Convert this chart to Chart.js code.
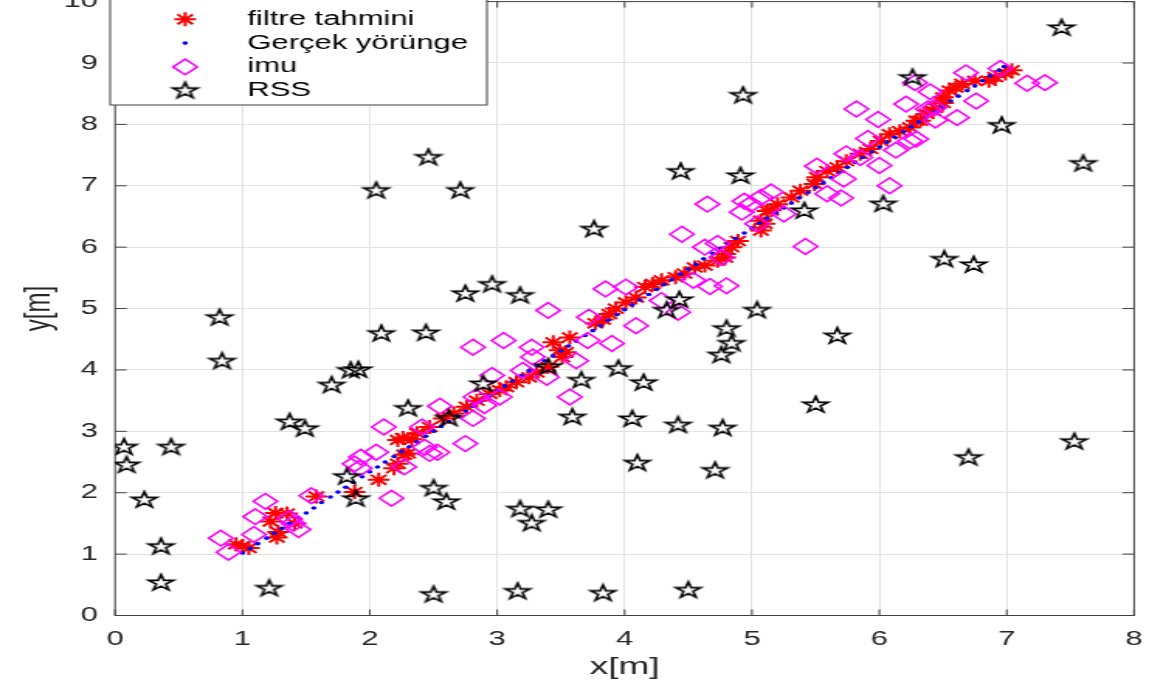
<!DOCTYPE html>
<html>
<head>
<meta charset="utf-8">
<script src="https://cdn.jsdelivr.net/npm/chart.js@4.4.1/dist/chart.umd.min.js"></script>
<style>
  html, body { margin: 0; padding: 0; background: #fff; overflow: hidden; }
  #trajectory-chart { display: block; }
</style>
</head>
<body>
<!-- the source figure is stretched sideways and cut at the top, so the canvas is drawn narrow,
     widened by its inline style and pulled up a little -->
<canvas id="trajectory-chart" width="741" height="693" style="width:1149px;height:693px;margin-top:-8px"></canvas>
<script>
const seriesLabels = ['filtre tahmini', 'Gerçek yörünge', 'imu', 'RSS'];
const xTicks = [0, 1, 2, 3, 4, 5, 6, 7, 8];
const yTicks = [0, 1, 2, 3, 4, 5, 6, 7, 8, 9, 10];
const xTitle = 'x[m]';
const yTitle = 'y[m]';

// [x, y] pairs
const filtreTahmini = [
  [0.95, 1.16], [1.05, 1.10], [1.00, 1.13], [1.22, 1.53], [1.27, 1.27], [1.28, 1.36], [1.26, 1.67], [1.35, 1.66],
  [1.41, 1.50], [1.58, 1.94], [1.88, 2.01], [2.07, 2.21], [2.19, 2.40], [2.22, 2.47], [2.27, 2.62], [2.30, 2.64],
  [2.22, 2.86], [2.26, 2.89], [2.33, 2.87], [2.37, 2.97], [2.47, 3.07], [2.58, 3.21], [2.66, 3.29], [2.76, 3.40],
  [2.84, 3.50], [2.94, 3.61], [3.02, 3.67], [3.07, 3.72], [3.15, 3.80], [3.25, 3.88], [3.31, 3.96], [3.40, 4.05],
  [3.49, 4.32], [3.51, 4.21], [3.54, 4.29], [3.44, 4.45], [3.57, 4.53], [3.77, 4.76], [3.83, 4.82], [3.88, 4.91],
  [3.93, 5.00], [4.01, 5.10], [4.09, 5.18], [4.16, 5.35], [4.22, 5.40], [4.29, 5.46], [4.40, 5.51], [4.47, 5.57],
  [4.55, 5.67], [4.63, 5.70], [4.73, 5.78], [4.79, 5.83], [4.79, 5.89], [4.84, 6.00], [4.89, 6.10], [5.07, 6.27],
  [5.07, 6.43], [5.10, 6.38], [5.12, 6.59], [5.15, 6.60], [5.20, 6.70], [5.31, 6.81], [5.38, 6.92], [5.49, 7.03],
  [5.51, 7.14], [5.59, 7.24], [5.67, 7.30], [5.74, 7.40], [5.85, 7.52], [5.93, 7.60], [6.01, 7.73], [6.08, 7.84],
  [6.16, 7.89], [6.24, 7.95], [6.29, 8.06], [6.32, 8.06], [6.37, 8.17], [6.42, 8.22], [6.44, 8.27], [6.50, 8.35],
  [6.50, 8.44], [6.55, 8.55], [6.60, 8.60], [6.65, 8.66], [6.75, 8.71], [6.86, 8.71], [6.91, 8.77], [6.99, 8.83],
  [7.04, 8.88]
];

const gercekYorunge = [
  [1.00, 1.02], [1.06, 1.09], [1.12, 1.17], [1.19, 1.26], [1.25, 1.34], [1.31, 1.42], [1.37, 1.50], [1.44, 1.59],
  [1.50, 1.67], [1.56, 1.75], [1.62, 1.84], [1.69, 1.93], [1.75, 2.01], [1.81, 2.09], [1.87, 2.17], [1.94, 2.26],
  [2.00, 2.34], [2.06, 2.42], [2.12, 2.50], [2.19, 2.59], [2.25, 2.67], [2.31, 2.75], [2.37, 2.83], [2.44, 2.92],
  [2.50, 3.00], [2.56, 3.08], [2.62, 3.16], [2.69, 3.25], [2.75, 3.33], [2.81, 3.41], [2.87, 3.49], [2.94, 3.58],
  [3.00, 3.66], [3.06, 3.74], [3.12, 3.82], [3.19, 3.91], [3.25, 3.99], [3.31, 4.07], [3.37, 4.15], [3.44, 4.23],
  [3.50, 4.31], [3.56, 4.39], [3.62, 4.47], [3.69, 4.56], [3.75, 4.64], [3.81, 4.72], [3.87, 4.81], [3.94, 4.90],
  [4.00, 4.98], [4.06, 5.06], [4.12, 5.14], [4.19, 5.23], [4.25, 5.31], [4.31, 5.39], [4.37, 5.47], [4.44, 5.56],
  [4.50, 5.64], [4.56, 5.72], [4.62, 5.81], [4.69, 5.90], [4.75, 5.98], [4.81, 6.06], [4.87, 6.14], [4.94, 6.23],
  [5.00, 6.31], [5.06, 6.39], [5.12, 6.47], [5.19, 6.56], [5.25, 6.64], [5.31, 6.72], [5.37, 6.80], [5.44, 6.89],
  [5.50, 6.97], [5.56, 7.05], [5.62, 7.13], [5.69, 7.22], [5.75, 7.30], [5.81, 7.38], [5.87, 7.46], [5.94, 7.55],
  [6.00, 7.63], [6.06, 7.71], [6.12, 7.79], [6.19, 7.88], [6.25, 7.96], [6.31, 8.04], [6.37, 8.12], [6.44, 8.21],
  [6.50, 8.29], [6.56, 8.38], [6.62, 8.46], [6.69, 8.55], [6.75, 8.63], [6.81, 8.71], [6.87, 8.79], [6.94, 8.88],
  [6.98, 8.94]
];

const imu = [
  [0.83, 1.26], [0.89, 1.03], [1.10, 1.61], [1.09, 1.32], [1.18, 1.86], [1.37, 1.58], [1.44, 1.40], [1.40, 1.50],
  [1.54, 1.95], [1.88, 2.47], [1.92, 2.40], [1.93, 2.58], [2.05, 2.66], [2.11, 3.07], [2.17, 1.91], [2.27, 2.42],
  [2.43, 2.74], [2.47, 2.64], [2.53, 2.66], [2.41, 3.07], [2.55, 3.41], [2.75, 2.80], [2.81, 3.21], [2.83, 3.56],
  [2.81, 4.37], [2.90, 3.42], [2.96, 3.91], [3.02, 3.56], [3.05, 4.48], [3.20, 3.99], [3.27, 4.37], [3.28, 4.21],
  [3.39, 3.88], [3.40, 4.97], [3.57, 3.56], [3.62, 4.15], [3.71, 4.48], [3.72, 4.86], [3.85, 5.32], [3.90, 4.43],
  [4.01, 5.35], [4.09, 4.72], [4.29, 5.13], [4.42, 4.94], [4.45, 6.21], [4.54, 5.46], [4.65, 6.70], [4.67, 5.36],
  [4.80, 5.37], [4.63, 6.00], [4.73, 6.06], [4.76, 5.83], [4.92, 6.57], [4.94, 6.75], [4.99, 6.70], [5.04, 6.38],
  [5.07, 6.81], [5.15, 6.90], [5.25, 6.54], [5.42, 6.01], [5.51, 7.32], [5.59, 6.87], [5.70, 6.80], [5.72, 7.11],
  [5.74, 7.52], [5.85, 7.46], [5.82, 8.25], [5.91, 7.77], [5.99, 8.08], [6.00, 7.33], [6.08, 7.00], [6.13, 7.58],
  [6.21, 8.33], [6.24, 7.73], [6.29, 7.76], [6.28, 8.68], [6.38, 8.25], [6.40, 8.53], [6.44, 8.07], [6.43, 8.27],
  [6.61, 8.11], [6.68, 8.84], [6.76, 8.38], [6.95, 8.91], [7.16, 8.67], [7.30, 8.68]
];

const rss = [
  [0.07, 2.74], [0.09, 2.45], [0.23, 1.88], [0.36, 1.12], [0.36, 0.53], [0.44, 2.74], [0.82, 4.85], [0.84, 4.14],
  [1.21, 0.44], [1.37, 3.15], [1.49, 3.04], [1.70, 3.75], [1.85, 3.99], [1.91, 4.00], [1.82, 2.26], [1.89, 1.90],
  [2.05, 6.92], [2.09, 4.59], [2.30, 3.37], [2.44, 4.60], [2.46, 7.46], [2.50, 2.07], [2.50, 0.34], [2.60, 1.85],
  [2.62, 3.21], [2.71, 6.92], [2.75, 5.24], [2.89, 3.77], [2.96, 5.39], [3.18, 5.21], [3.18, 1.73], [3.27, 1.50],
  [3.40, 1.72], [3.16, 0.39], [3.40, 4.05], [3.59, 3.23], [3.66, 3.83], [3.76, 6.29], [3.83, 0.36], [3.95, 4.02],
  [4.06, 3.20], [4.10, 2.48], [4.15, 3.79], [4.33, 4.97], [4.43, 5.14], [4.44, 7.23], [4.42, 3.10], [4.50, 0.41],
  [4.71, 2.36], [4.76, 4.24], [4.80, 4.67], [4.84, 4.43], [4.77, 3.05], [4.93, 8.47], [4.91, 7.16], [5.04, 4.97],
  [5.41, 6.59], [5.50, 3.43], [5.67, 4.55], [6.03, 6.70], [6.26, 8.76], [6.51, 5.80], [6.74, 5.71], [6.70, 2.57],
  [6.96, 7.98], [7.43, 9.57], [7.60, 7.36], [7.53, 2.83]
];

const toPoints = (pairs) => pairs.map(p => ({x: p[0], y: p[1]}));

// open pentagram like the matlab 'p' marker
function makePentagram(radius, lineWidth) {
    const size = Math.ceil(2 * radius + 2 * lineWidth + 2);
    const c = document.createElement('canvas');
    c.width = size;
    c.height = size;
    const g = c.getContext('2d');
    g.translate(size / 2, size / 2);
    g.beginPath();
    for (let i = 0; i < 10; i++) {
        const r = i % 2 === 0 ? radius : radius * 0.382;
        const a = -Math.PI / 2 + i * Math.PI / 5;
        if (i === 0) g.moveTo(r * Math.cos(a), r * Math.sin(a));
        else g.lineTo(r * Math.cos(a), r * Math.sin(a));
    }
    g.closePath();
    g.lineWidth = lineWidth;
    g.strokeStyle = '#000000';
    g.stroke();
    return c;
}

const pentagram = makePentagram(8.4, 1.6);
const tickFont = {family: "'Liberation Sans', Arial, sans-serif", size: 20};
const axisColor = '#404040';

// matlab style box round the axes with inward ticks
const axesBoxPlugin = {
    id: 'axesBox',
    beforeDatasetsDraw(chart) {
        const {ctx, chartArea: a, scales} = chart;
        ctx.save();
        ctx.strokeStyle = axisColor;
        ctx.lineWidth = 1;
        ctx.beginPath();
        xTicks.forEach(v => {
            const px = scales.x.getPixelForValue(v);
            ctx.moveTo(px, a.bottom);
            ctx.lineTo(px, a.bottom - 6);
            ctx.moveTo(px, a.top);
            ctx.lineTo(px, a.top + 6);
        });
        yTicks.forEach(v => {
            const py = scales.y.getPixelForValue(v);
            ctx.moveTo(a.left, py);
            ctx.lineTo(a.left + 7.5, py);
            ctx.moveTo(a.right, py);
            ctx.lineTo(a.right - 7.5, py);
        });
        ctx.stroke();
        ctx.strokeRect(a.left, a.top, a.right - a.left, a.bottom - a.top);
        ctx.restore();
    }
};

const legendBoxPlugin = {
    id: 'legendBox',
    afterDraw(chart) {
        const ctx = chart.ctx;
        const box = {left: 71, top: 3, right: 314, bottom: 113};
        const markerX = 119.4, textX = 159.5, firstRow = 27.3, rowGap = 23.8;
        ctx.save();
        ctx.fillStyle = '#ffffff';
        ctx.fillRect(box.left, box.top, box.right - box.left, box.bottom - box.top);
        ctx.strokeStyle = axisColor;
        ctx.lineWidth = 1;
        ctx.strokeRect(box.left, box.top, box.right - box.left, box.bottom - box.top);
        chart.data.datasets.forEach((ds, i) => {
            const y = firstRow + i * rowGap;
            ctx.save();
            ctx.strokeStyle = ds.pointBorderColor;
            ctx.fillStyle = ds.pointBackgroundColor;
            ctx.lineWidth = ds.pointBorderWidth;
            Chart.helpers.drawPoint(ctx, {
                pointStyle: ds.pointStyle,
                radius: ds.pointRadius,
                borderWidth: ds.pointBorderWidth,
                rotation: 0
            }, markerX, y);
            ctx.restore();
            ctx.fillStyle = '#000000';
            ctx.font = "20px 'Liberation Sans', Arial, sans-serif";
            ctx.textBaseline = 'middle';
            ctx.textAlign = 'left';
            ctx.fillText(ds.label, textX, y);
        });
        ctx.restore();
    }
};

const trajectoryCanvas = document.getElementById('trajectory-chart');

new Chart(trajectoryCanvas, {
    type: 'scatter',
    data: {
        datasets: [{
            label: seriesLabels[0],
            data: toPoints(filtreTahmini),
            pointStyle: 'star',
            pointRadius: 7,
            pointBorderWidth: 2,
            pointBorderColor: '#ff0000',
            pointBackgroundColor: '#ff0000',
            order: 3
        }, {
            label: seriesLabels[1],
            data: toPoints(gercekYorunge),
            pointStyle: 'circle',
            pointRadius: 1.8,
            pointBorderWidth: 0,
            pointBorderColor: '#0000ff',
            pointBackgroundColor: '#0000ff',
            order: 2
        }, {
            label: seriesLabels[2],
            data: toPoints(imu),
            pointStyle: 'rectRot',
            pointRadius: 7.8,
            pointBorderWidth: 1.6,
            pointBorderColor: '#ff00ff',
            pointBackgroundColor: 'rgba(0,0,0,0)',
            order: 1
        }, {
            label: seriesLabels[3],
            data: toPoints(rss),
            pointStyle: pentagram,
            pointRadius: 8,
            pointBorderWidth: 1.6,
            pointBorderColor: '#000000',
            pointBackgroundColor: 'rgba(0,0,0,0)',
            order: 0
        }]
    },
    options: {
        responsive: false,
        animation: false,
        events: [],
        layout: {padding: {top: 1, right: 4.5, left: 0, bottom: 0}},
        plugins: {
            legend: {display: false},
            tooltip: {enabled: false}
        },
        scales: {
            x: {
                type: 'linear',
                min: xTicks[0],
                max: xTicks[xTicks.length - 1],
                afterFit: (scale) => {
                    scale.height = 69.5;
                    scale.paddingLeft = 0;
                    scale.paddingRight = 0;
                },
                ticks: {stepSize: 1, padding: 12, maxRotation: 0, color: '#262626', font: tickFont},
                grid: {color: '#e2e2e2', lineWidth: 1, drawTicks: false},
                border: {display: false},
                title: {
                    display: true,
                    text: xTitle,
                    color: '#262626',
                    font: {family: "'Liberation Sans', Arial, sans-serif", size: 24},
                    padding: {top: 0, bottom: 3}
                }
            },
            y: {
                type: 'linear',
                min: yTicks[0],
                max: yTicks[yTicks.length - 1],
                afterFit: (scale) => {
                    scale.width = 74.2;
                    scale.paddingTop = 0;
                    scale.paddingBottom = 0;
                },
                ticks: {stepSize: 1, padding: 11, color: '#262626', font: tickFont},
                grid: {color: '#e2e2e2', lineWidth: 1, drawTicks: false},
                border: {display: false},
                title: {
                    display: true,
                    text: yTitle,
                    color: '#262626',
                    font: {family: "'Liberation Sans', Arial, sans-serif", size: 24},
                    padding: {top: 11, bottom: 0}
                }
            }
        }
    },
    plugins: [axesBoxPlugin, legendBoxPlugin]
});
</script>
</body>
</html>
